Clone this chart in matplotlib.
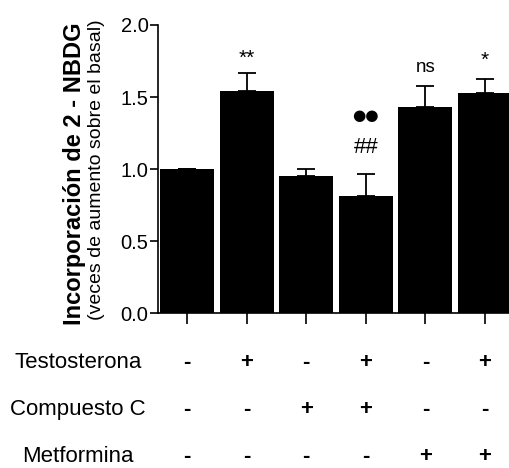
import matplotlib.pyplot as plt
import matplotlib.transforms as mtransforms
import numpy as np

plt.rcParams['font.family'] = ['Liberation Sans', 'DejaVu Sans']

# data
means = [1.0, 1.544, 0.951, 0.812, 1.433, 1.530]
errors = [0.0, 0.126, 0.047, 0.155, 0.143, 0.097]
marks = ['', '**', '', '##', 'ns', '*']
marks2 = ['', '', '', '●●', '', '']
row_labels = ['Testosterona', 'Compuesto C', 'Metformina']
testosterona = ['-', '+', '-', '+', '-', '+']
compuesto_c = ['-', '-', '+', '+', '-', '-']
metformina = ['-', '-', '-', '-', '+', '+']

fig = plt.figure(figsize=(5.1, 4.68), dpi=100)
ax = fig.add_axes([0.31, 0.331, 0.698, 0.6156])

x = np.arange(len(means))
ax.bar(x, means, width=0.906, color='black', edgecolor='black', linewidth=0)
ax.errorbar(x, means, yerr=[np.zeros(len(errors)), errors], fmt='none',
            ecolor='black', elinewidth=1.3, capsize=6.5, capthick=1.3)

ax.set_xlim(-0.487, 5.487)
ax.set_ylim(0, 2.0)
ax.set_yticks([0.0, 0.5, 1.0, 1.5, 2.0])
ax.set_yticklabels(['0.0', '0.5', '1.0', '1.5', '2.0'], fontsize=14.5)
ax.set_xticks(x)
ax.set_xticklabels([])
ax.tick_params(axis='x', length=8, width=1.2)
ax.tick_params(axis='y', length=6, width=1.2, pad=1)
for s in ['top', 'right']:
    ax.spines[s].set_visible(False)
for s in ['left', 'bottom']:
    ax.spines[s].set_linewidth(1.2)

# significance marks (offset above the error bar cap)
offsets = {'**': (0.03, 15), '##': (0.11, 16), 'ns': (0.07, 13.5), '*': (0.06, 15)}
for xi, m, e, t in zip(x, means, errors, marks):
    if t == '':
        continue
    off, fs = offsets[t]
    ax.text(xi, m + e + off, t, ha='center', va='bottom', fontsize=fs)
for xi, m, e, t in zip(x, means, errors, marks2):
    if t:
        ax.text(xi, m + e + 0.35, t, ha='center', va='bottom', fontsize=11,
                family=['DejaVu Sans'])

# y labels
fig.text(0.147, 0.628, 'Incorporación de 2 - NBDG', rotation=90, ha='center',
         va='center', fontsize=17, fontweight='bold')
fig.text(0.19, 0.637, '(veces de aumento sobre el basal)', rotation=90,
         ha='center', va='center', fontsize=14)

# treatment table
trans = mtransforms.blended_transform_factory(ax.transData, fig.transFigure)
rows = [testosterona, compuesto_c, metformina]
row_y = [1 - 368 / 468, 1 - 415 / 468, 1 - 462 / 468]
for lab, vals, yy in zip(row_labels, rows, row_y):
    fig.text(0.153, yy, lab, ha='center', va='baseline', fontsize=16)
    for xi, v in zip(x, vals):
        ax.text(xi, yy, v, transform=trans, ha='center', va='baseline',
                fontsize=16, fontweight='bold', clip_on=False)

fig.savefig('out.png', dpi=100)
